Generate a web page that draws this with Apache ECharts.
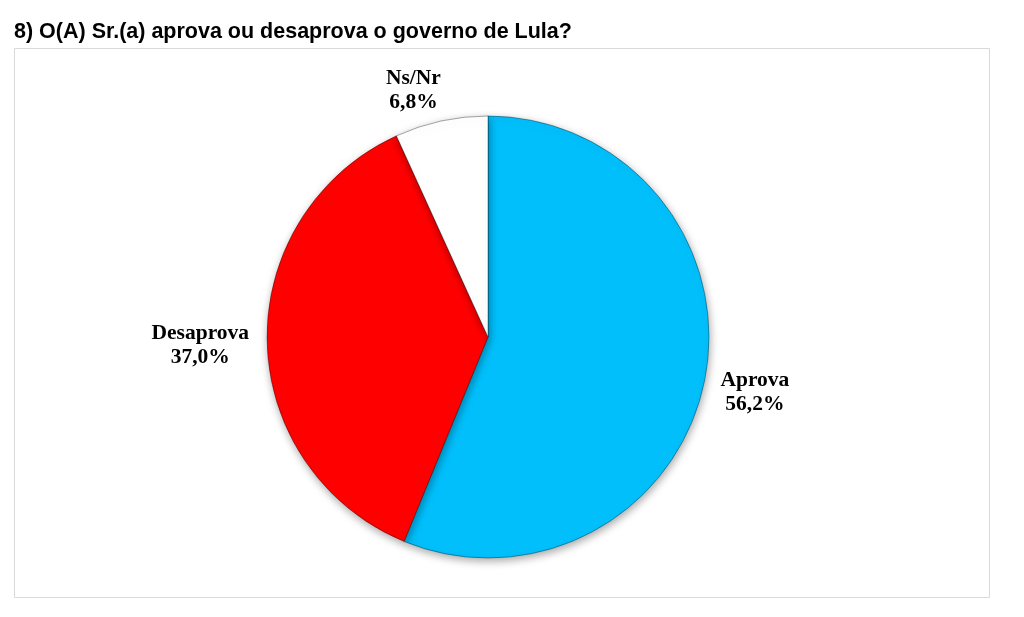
<!DOCTYPE html>
<html><head><meta charset="utf-8">
<script src="https://cdn.jsdelivr.net/npm/echarts@6/dist/echarts.min.js"></script>
<style>html,body{margin:0;padding:0;background:#fff}#c{width:1024px;height:617px}</style>
</head><body><div id="c"></div>
<script>
const categories = ['Aprova', 'Desaprova', 'Ns/Nr'];
const values = [56.2, 37.0, 6.8];
const colors = ['#00BFFB', '#FF0000', '#FFFFFF'];
const titleText = '8) O(A) Sr.(a) aprova ou desaprova o governo de Lula?';
const labelNudge = [[-19, 9], [17, 4], [19, -11]];

const chart = echarts.init(document.getElementById('c'));
chart.setOption({
  backgroundColor: '#fff',
  animation: false,
  title: {
    text: titleText, left: 14, top: 21, padding: 0,
    textStyle: {fontFamily: 'Liberation Sans, Arial', fontWeight: 'bold', fontSize: 21.5, color: '#000'}
  },
  graphic: [{
    type: 'rect', shape: {x: 14.5, y: 48.5, width: 975, height: 549},
    style: {fill: 'none', stroke: '#d9d9d9', lineWidth: 1}, z: -1
  }],
  series: [{
    type: 'pie',
    center: [488, 337],
    radius: [0, 221],
    startAngle: 90,
    clockwise: true,
    data: categories.map((c, i) => ({name: c, value: values[i], itemStyle: {color: colors[i]}})),
    itemStyle: {borderColor: 'rgba(0,0,0,0.35)', borderWidth: 1, shadowBlur: 8, shadowColor: 'rgba(0,0,0,0.35)', shadowOffsetY: 3, shadowOffsetX: 1},
    label: {
      show: true, position: 'outside',
      formatter: p => p.name + '\n' + p.value.toFixed(1).replace('.', ',') + '%',
      fontFamily: 'Liberation Serif, Times New Roman', fontWeight: 'bold', fontSize: 21.5, lineHeight: 24,
      color: '#000'
    },
    labelLine: {show: false, length: 20, length2: 10},
    labelLayout: p => {
      const r = p.labelRect, n = labelNudge[p.dataIndex];
      return {x: r.x + r.width / 2 + n[0], y: r.y + r.height / 2 + n[1], align: 'center', verticalAlign: 'middle'};
    }
  }]
});
</script></body></html>
